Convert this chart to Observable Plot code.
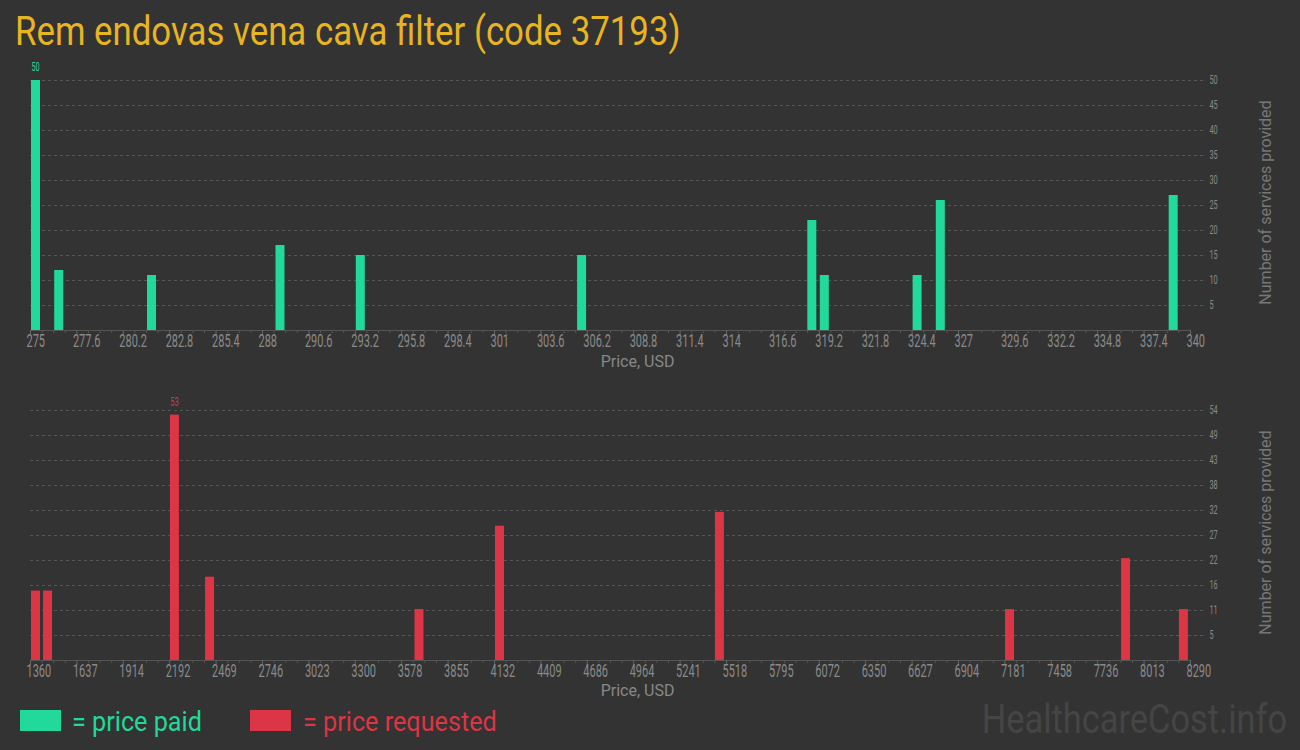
<!DOCTYPE html>
<html>
<head>
<meta charset="utf-8">
<script src="https://cdn.jsdelivr.net/npm/d3@7"></script>
<script src="https://cdn.jsdelivr.net/npm/@observablehq/plot@0.6"></script>
<style>
  html, body { margin: 0; padding: 0; background: #333; }
  #wrap { position: relative; width: 1300px; height: 750px; background: #333; overflow: hidden; font-family: Roboto, sans-serif; }
  .abs { position: absolute; white-space: nowrap; }
  #title { left: 15px; top: 12px; font-size: 40px; line-height: 40px; color: #e9b421; transform: scaleX(0.87); transform-origin: 0 0; }
  #chart1 { left: 0; top: 55px; }
  #chart2 { left: 0; top: 385px; }
  .sw { width: 41px; height: 21px; }
  .lt { font-size: 28px; line-height: 28px; transform: scaleX(0.9); transform-origin: 0 0; }
  #wm { right: 13px; top: 700px; font-size: 40px; line-height: 40px; color: #454545; transform: scaleX(0.86); transform-origin: 100% 0; }
</style>
</head>
<body>
<div id="wrap">
  <div id="title" class="abs">Rem endovas vena cava filter (code 37193)</div>
  <div id="chart1" class="abs"></div>
  <div id="chart2" class="abs"></div>
  <div class="abs sw" style="left:20px;top:710px;background:#21d99b"></div>
  <div class="abs lt" style="left:72px;top:708px;color:#21d99b">= price paid</div>
  <div class="abs sw" style="left:250px;top:710px;background:#dc3545"></div>
  <div class="abs lt" style="left:303px;top:708px;color:#dc3545">= price requested</div>
  <div id="wm" class="abs">HealthcareCost.info</div>
</div>
<script>
// ---- data ----
const paidPrices = [275, 276.3, 281.5, 288.7, 293.2, 305.6, 318.5, 319.2, 324.4, 325.7, 338.75];
const paidCounts = [50, 12, 11, 17, 15, 15, 22, 11, 11, 26, 27];

const requestedPrices = [1360, 1432, 2190, 2400, 3651, 4132, 5446, 7179, 7872, 8218];
const requestedCounts = [15, 15, 53, 18, 11, 29, 32, 11, 22, 11];

const paidXTicks = [275, 277.6, 280.2, 282.8, 285.4, 288, 290.6, 293.2, 295.8, 298.4, 301, 303.6, 306.2, 308.8, 311.4, 314, 316.6, 319.2, 321.8, 324.4, 327, 329.6, 332.2, 334.8, 337.4, 340];
const paidXLabels = ["275", "277.6", "280.2", "282.8", "285.4", "288", "290.6", "293.2", "295.8", "298.4", "301", "303.6", "306.2", "308.8", "311.4", "314", "316.6", "319.2", "321.8", "324.4", "327", "329.6", "332.2", "334.8", "337.4", "340"];
const paidYTicks = [5, 10, 15, 20, 25, 30, 35, 40, 45, 50];
const paidYLabels = ["5", "10", "15", "20", "25", "30", "35", "40", "45", "50"];

const reqXTicks = [1360, 1637.2, 1914.4, 2191.6, 2468.8, 2746, 3023.2, 3300.4, 3577.6, 3854.8, 4132, 4409.2, 4686.4, 4963.6, 5240.8, 5518, 5795.2, 6072.4, 6349.6, 6626.8, 6904, 7181.2, 7458.4, 7735.6, 8012.8, 8290];
const reqXLabels = ["1360", "1637", "1914", "2192", "2469", "2746", "3023", "3300", "3578", "3855", "4132", "4409", "4686", "4964", "5241", "5518", "5795", "6072", "6350", "6627", "6904", "7181", "7458", "7736", "8013", "8290"];
const reqYTicks = [5.4, 10.8, 16.2, 21.6, 27, 32.4, 37.8, 43.2, 48.6, 54];
const reqYLabels = ["5", "11", "16", "22", "27", "32", "38", "43", "49", "54"];

const GREEN = "#21d99b";
const RED = "#dc3545";

function condense(svg, k) {
  svg.querySelectorAll('g[aria-description="condense"] text').forEach(t => {
    const tr = t.getAttribute("transform") || "";
    t.setAttribute("transform", `${tr} scale(${k},1)`);
  });
}

function makeChart({prices, counts, color, xTicks, xLabels, yTicks, yLabels, xDomain, yDomain, labelDy}) {
  const data = prices.map((p, i) => ({price: p, count: counts[i]}));
  const maxD = data.reduce((a, b) => (b.count > a.count ? b : a));
  const minor = [];
  for (let i = 0; i < xTicks.length - 1; i++)
    for (let k = 1; k < 4; k++) minor.push(xTicks[i] + (xTicks[i + 1] - xTicks[i]) * k / 4);
  const W = 1300, H = 330, mt = 25, mb = 55;
  const ph = H - mt - mb;
  const svg = Plot.plot({
    width: W, height: H,
    marginLeft: 30, marginRight: 110, marginTop: mt, marginBottom: mb,
    style: {background: "transparent", fontFamily: "Roboto", overflow: "visible"},
    x: {domain: xDomain, axis: null},
    y: {domain: yDomain, axis: null},
    marks: [
      Plot.ruleY(yTicks, {stroke: "#555", strokeDasharray: "3,3", insetRight: -16}),
      Plot.ruleY([0], {stroke: "#555"}),
      Plot.tickX(minor, {x: d => d, stroke: "#555", insetTop: ph, insetBottom: -3}),
      Plot.tickX(xTicks, {x: d => d, stroke: "#666", insetTop: ph, insetBottom: -5}),
      Plot.rectY(data, {x1: "price", x2: "price", y: "count", fill: color, insetLeft: 1, insetRight: -10}),
      Plot.text([maxD], {x: "price", y: "count", text: d => String(d.count), fill: color, fontSize: 12, textAnchor: "middle", dx: 5, dy: -13, ariaDescription: "condense"}),
      Plot.text(xTicks, {x: d => d, text: (d, i) => xLabels[i], frameAnchor: "bottom", textAnchor: "start", dx: -4, dy: 16, fill: "#8a8a8a", fontSize: 18, ariaDescription: "condense"}),
      Plot.text(yTicks, {y: d => d, text: (d, i) => yLabels[i], frameAnchor: "right", textAnchor: "start", dx: 19, fill: "#8a8a8a", fontSize: 12, ariaDescription: "condense"}),
      Plot.text(["Price, USD"], {frameAnchor: "bottom", textAnchor: "middle", dx: 27, dy: labelDy, fill: "#888", fontSize: 16}),
      Plot.text(["Number of services provided"], {frameAnchor: "right", textAnchor: "middle", rotate: -90, dx: 75, dy: -3, fill: "#777", fontSize: 16})
    ]
  });
  condense(svg, 0.61);
  return svg;
}

document.getElementById("chart1").appendChild(makeChart({
  prices: paidPrices, counts: paidCounts, color: GREEN,
  xTicks: paidXTicks, xLabels: paidXLabels, yTicks: paidYTicks, yLabels: paidYLabels,
  xDomain: [275, 340], yDomain: [0, 50], labelDy: 36
}));
document.getElementById("chart2").appendChild(makeChart({
  prices: requestedPrices, counts: requestedCounts, color: RED,
  xTicks: reqXTicks, xLabels: reqXLabels, yTicks: reqYTicks, yLabels: reqYLabels,
  xDomain: [1360, 8290], yDomain: [0, 54], labelDy: 35
}));
</script>
</body>
</html>
